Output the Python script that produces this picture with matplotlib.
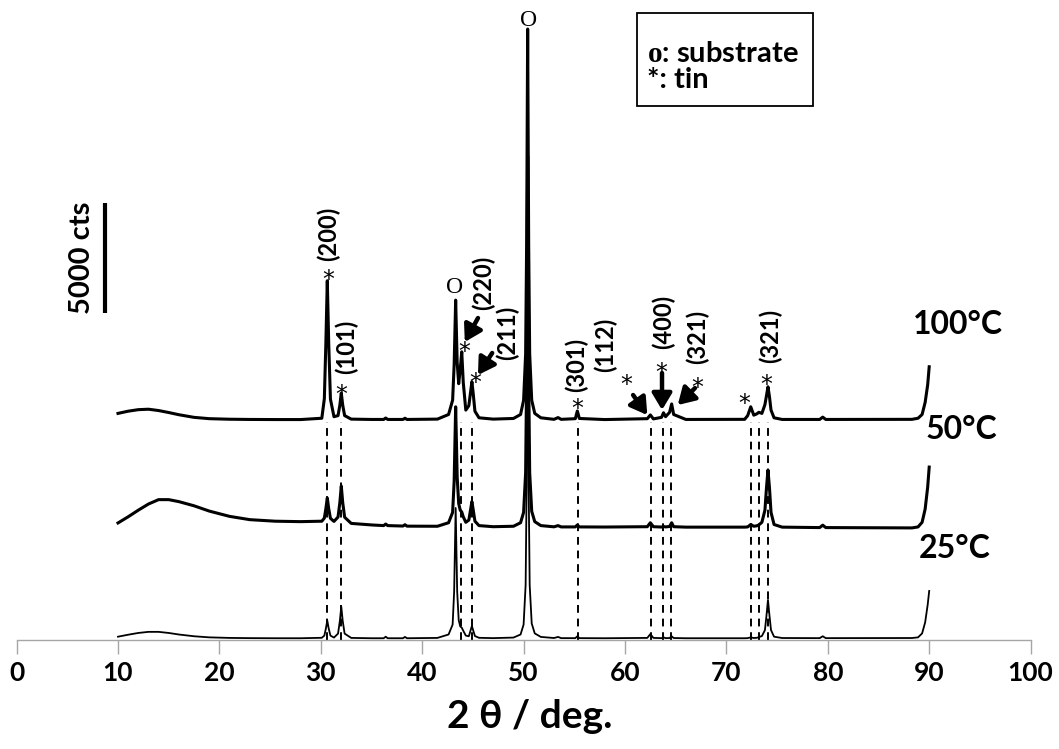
import numpy as np
import matplotlib
matplotlib.use("Agg")
import matplotlib.pyplot as plt
from matplotlib.patches import Rectangle

plt.rcParams['font.family'] = ['Lato', 'DejaVu Sans']
plt.rcParams['font.weight'] = 'bold'
plt.rcParams['mathtext.fontset'] = 'custom'
plt.rcParams['mathtext.rm'] = 'Liberation Serif'

# ---------------- data ----------------
two_theta = [10.0, 11.0, 12.0, 13.0, 14.0, 15.0, 16.0, 17.5, 19.0, 21.0,
             23.0, 25.5, 28.0, 30.1, 30.35, 30.5, 30.64, 30.78, 30.95, 31.3,
             31.7, 31.88, 32.02, 32.16, 32.35, 33.0, 35.0, 36.2, 36.4, 36.6,
             38.1, 38.3, 38.5, 41.5, 42.6, 43.0, 43.15, 43.3, 43.45, 43.6,
             43.75, 43.9, 44.05, 44.3, 44.6, 44.78, 44.9, 45.02, 45.2, 45.6,
             47.0, 49.0, 49.7, 50.0, 50.2, 50.3, 50.4, 50.5, 50.6, 50.8,
             51.1, 51.7, 53.0, 53.4, 53.7, 55.1, 55.3, 55.5, 58.0, 62.2,
             62.5, 62.8, 63.6, 63.8, 64.0, 64.4, 64.6, 64.8, 66.0, 71.8,
             72.1, 72.4, 72.7, 73.0, 73.2, 73.5, 73.8, 73.95, 74.1, 74.25,
             74.4, 74.7, 75.5, 79.2, 79.5, 79.8, 88.3, 88.9, 89.3, 89.6,
             89.85, 90.0]

counts_25C = [150, 240, 320, 370, 370, 320, 250, 170, 120, 95,
              85, 80, 80, 100, 200, 520, 880, 520, 200, 110,
              290, 870, 1515, 870, 290, 95, 80, 80, 150, 80,
              80, 140, 80, 95, 250, 700, 2200, 6000, 2200, 900,
              620, 560, 420, 200, 170, 450, 640, 450, 180, 100,
              85, 110, 250, 700, 2500, 7000, 17500, 7000, 2500, 750,
              300, 140, 90, 140, 85, 85, 170, 85, 80, 95,
              270, 95, 85, 120, 85, 90, 170, 90, 80, 80,
              85, 120, 90, 100, 130, 180, 450, 1100, 1820, 1100,
              450, 150, 90, 85, 170, 85, 90, 120, 300, 800,
              1600, 2230]

counts_50C = [320, 600, 900, 1180, 1380, 1380, 1290, 1100, 860, 620,
              470, 400, 380, 400, 540, 970, 1455, 970, 530, 390,
              590, 1250, 2000, 1250, 580, 300, 230, 200, 270, 200,
              180, 240, 175, 170, 330, 800, 2200, 5600, 2400, 1200,
              900, 820, 600, 350, 450, 950, 1290, 950, 400, 200,
              150, 170, 330, 800, 2600, 7000, 17000, 7000, 2600, 850,
              380, 200, 145, 200, 140, 140, 230, 140, 135, 150,
              330, 150, 135, 160, 140, 160, 330, 150, 130, 130,
              140, 250, 170, 190, 230, 350, 900, 1900, 2730, 1900,
              800, 250, 130, 110, 220, 110, 95, 140, 350, 950,
              1950, 2860]

counts_100C = [300, 400, 470, 490, 430, 340, 240, 120, 60, 35,
               25, 20, 20, 80, 970, 3500, 6330, 3500, 950, 150,
               200, 680, 1225, 680, 200, 40, 25, 25, 90, 25,
               25, 80, 25, 40, 250, 900, 2500, 5450, 2600, 1650,
               2300, 3100, 1700, 450, 650, 1300, 1740, 1250, 400, 100,
               40, 70, 250, 900, 3000, 8000, 17770, 8000, 3000, 900,
               300, 100, 30, 110, 30, 60, 410, 70, 20, 60,
               230, 50, 120, 330, 150, 350, 730, 250, 25, 30,
               200, 600, 220, 280, 350, 300, 700, 1100, 1510, 1050,
               450, 100, 25, 25, 130, 25, 30, 80, 250, 800,
               1600, 2420]

temperatures = ['25°C', '50°C', '100°C']
offsets = [0, 5000, 10000]

tin_peaks = [30.64, 32.02, 43.87, 44.90, 55.33, 62.54, 63.78, 64.58, 72.40, 73.19, 74.10]
x_ticks = [0, 10, 20, 30, 40, 50, 60, 70, 80, 90, 100]
scale_bar_cts = 5000

# ---------------- figure ----------------
fig = plt.figure(figsize=(10.59, 7.49), dpi=100)
ax = fig.add_axes([16.6 / 1059, 109 / 749, 1014 / 1059, 616 / 749])
ax.set_xlim(0, 100)
ax.set_ylim(0, 28000)

for s in ['left', 'right', 'top']:
    ax.spines[s].set_visible(False)
ax.spines['bottom'].set_color('#a6a6a6')
ax.spines['bottom'].set_linewidth(1.0)
ax.set_yticks([])
ax.set_xticks(x_ticks)
ax.set_xticklabels([str(t) for t in x_ticks])
ax.tick_params(axis='x', direction='out', length=10, width=1, color='#a6a6a6',
               pad=5, labelsize=19)

# dashed guide lines
ax.vlines(tin_peaks, 0, 9900, colors='black', linestyles=(0, (4, 3)), lw=1.4, zorder=2)

# traces
series = [counts_25C, counts_50C, counts_100C]
widths = [1.3, 2.2, 2.2]
for vals, off, lw in zip(series, offsets, widths):
    ax.plot(two_theta, np.array(vals) + off, color='black', lw=lw, zorder=3,
            solid_joinstyle='round')

# temperature labels
temp_pos = [(92.5, 4180), (93.2, 9590), (92.8, 14360)]
for t, (x, y) in zip(temperatures, temp_pos):
    ax.text(x, y, t, fontsize=23, fontweight='bold', ha='center', va='center')

# scale bar
ax.vlines(8.7, 14860, 14860 + scale_bar_cts, colors='black', lw=3)
ax.text(6.45, 14860 + scale_bar_cts / 2, f'{scale_bar_cts} cts', rotation=90, fontsize=21,
        fontweight='bold', ha='center', va='center')

# substrate markers
serif = ['Liberation Serif', 'DejaVu Serif']
ax.text(50.45, 28150, 'O', family=serif, fontsize=17, fontweight='normal',
        ha='center', va='center', clip_on=False)
ax.text(43.2, 16045, 'O', family=serif, fontsize=17, fontweight='normal',
        ha='center', va='center')

# tin markers (*)
stars = [(30.7, 16380), (32.0, 11150), (44.1, 13080), (45.2, 11700), (55.3, 10520),
         (60.1, 11600), (63.55, 12150), (67.1, 11470), (71.8, 10750), (73.9, 11570)]
for x, y in stars:
    ax.text(x, y, '*', family=['DejaVu Sans'], fontsize=17, fontweight='normal',
            ha='center', va='center')

# hkl labels
hkl = [('(200)', 30.8, 18450), ('(101)', 32.5, 13330), ('(220)', 46.0, 16225),
       ('(211)', 48.4, 13950), ('(301)', 55.2, 12500), ('(112)', 58.1, 13410),
       ('(400)', 63.75, 14455), ('(321)', 67.1, 13770), ('(321)', 74.3, 13815)]
for lab, x, y in hkl:
    ax.text(x, y, lab, rotation=90, fontsize=17, fontweight='bold', ha='center', va='center')

# arrows
arrows = [((45.5, 14635), (44.2, 13545)), ((46.9, 13045), (45.5, 12045)),
          ((60.8, 11135), (62.2, 10225)), ((63.65, 12135), (63.65, 10455)),
          ((66.9, 11450), (65.2, 10680))]
for tail, head in arrows:
    ax.annotate('', xy=head, xytext=tail,
                arrowprops=dict(arrowstyle='-|>,head_length=0.55,head_width=0.33', lw=3.2,
                                color='black', shrinkA=0, shrinkB=0, mutation_scale=18))

# legend box
ax.add_patch(Rectangle((61.15, 24270), 17.35, 4240, fill=False, lw=1.3, ec='black',
                       clip_on=False))
ax.text(62.2, 26250, r'$\mathrm{o}$: substrate', fontsize=21, fontweight='bold', ha='left',
        va='baseline', clip_on=False)
ax.text(62.2, 25090, '*: tin', fontsize=21, fontweight='bold', ha='left',
        va='baseline', clip_on=False)

fig.text(530 / 1059, (749 - 717) / 749, '2 θ / deg.', fontsize=28, fontweight='bold',
         ha='center', va='center')

fig.savefig('out.png', dpi=100)
